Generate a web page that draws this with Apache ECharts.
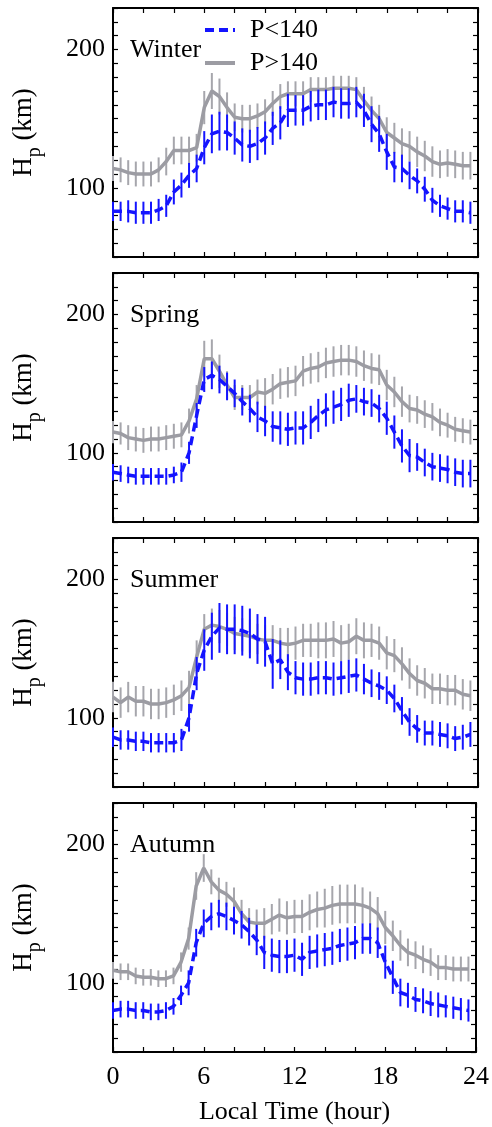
<!DOCTYPE html>
<html>
<head>
<meta charset="utf-8">
<script src="https://cdn.jsdelivr.net/npm/echarts@6/dist/echarts.min.js"></script>
<style>
body { margin: 0; background: #fff; }
#main { width: 492px; height: 1127px; }
</style>
</head>
<body>
<div id="main"></div>
<script>
// local time, half-hour bins
var hours = [0,0.5,1,1.5,2,2.5,3,3.5,4,4.5,5,5.5,6,6.5,7,7.5,8,8.5,9,9.5,10,10.5,11,11.5,
             12,12.5,13,13.5,14,14.5,15,15.5,16,16.5,17,17.5,18,18.5,19,19.5,20,20.5,21,21.5,22,22.5,23,23.5];
var seasons = ['Winter', 'Spring', 'Summer', 'Autumn'];
var xTickLabels = [0, 6, 12, 18, 24];
var yTickLabels = [100, 200];

// Hp (km), P<140
var winterLow = [83,83,83,82,82,82,84,87,97,102,109,114, 129,139,141,140,136,131,130,132,136,143,147,156,
                 156,156,159,160,160,162,161,161,162,156,146,139, 126,115,114,109,105,99,91,87,85,83,83,82];
var springLow = [86,85,84,83,83,83,83,83,84,86,100,127, 153,156,153,148,143,137,132,126,123,119,118,117,
                 118,118,122,127,131,133,135,138,139,137,136,132, 125,115,105,98,97,93,90,89,88,86,85,85];
var summerLow = [86,84,84,83,83,82,82,82,82,84,100,132, 149,159,165,164,164,163,161,157,155,139,142,133,
                 129,128,128,129,129,128,129,130,131,128,125,123, 120,114,105,97,92,89,89,88,87,85,86,88];
var autumnLow = [80,81,81,80,80,79,79,80,83,91,100,129, 143,148,150,148,145,142,137,131,122,120,119,119,
                 120,117,122,123,124,125,127,128,129,132,132,129, 115,104,93,91,88,87,85,84,83,82,81,80];

// Hp (km), P>140
var winterHigh = [114,113,111,110,110,110,113,119,127,127,127,129, 158,170,166,158,151,150,150,152,155,161,166,168,
                  168,168,171,171,171,172,172,172,171,163,156,150, 140,136,132,130,126,123,119,117,118,117,116,116];
var springHigh = [115,114,111,110,109,110,110,111,112,113,123,139, 168,168,159,149,140,140,140,144,143,146,150,151,
                  152,159,161,162,165,166,167,167,166,163,161,160, 149,144,137,132,131,128,126,122,120,117,116,115];
var summerHigh = [115,111,115,112,112,110,110,111,113,116,122,144, 164,167,166,164,161,160,159,157,156,156,154,153,
                  154,156,156,156,156,157,154,155,159,156,156,154, 147,145,139,132,127,125,121,121,120,120,117,116];
var autumnHigh = [109,108,108,105,104,104,103,103,105,115,132,170, 183,173,167,164,159,150,144,143,143,146,149,147,
                  148,148,151,153,154,156,157,157,157,156,154,150, 140,134,127,122,120,117,115,111,111,110,110,110];

// error bar half lengths (km)
var winterLowErr = [7,7,8,8,8,8,8,8,9,9,9,10, 12,14,14,13,12,12,12,12,12,12,12,12,
                    11,11,11,11,11,11,11,11,11,12,13,13, 13,11,10,10,9,9,9,8,8,8,8,8];
var springLowErr = [6,6,6,6,6,6,6,6,6,7,8,9, 9,10,10,10,10,10,10,11,11,11,12,12,
                    12,12,12,12,12,12,12,12,10,10,10,10, 12,12,12,12,10,10,10,10,10,10,10,10];
var summerLowErr = [7,7,7,7,7,7,7,7,7,8,10,12, 15,17,18,18,18,18,18,18,18,18,14,13,
                    12,12,12,12,12,12,12,12,12,11,10,10, 10,10,10,10,10,9,9,9,9,9,9,9];
var autumnLowErr = [6,6,6,6,6,6,6,6,6,7,9,10, 10,10,10,10,10,10,10,11,12,12,12,12,
                    12,12,12,12,12,12,12,12,12,11,11,11, 12,12,10,9,9,9,9,9,8,8,8,8];
var winterHighErr = [9,9,9,9,9,9,9,10,10,10,10,10, 12,13,13,11,10,10,10,9,9,9,9,9,
                     9,9,9,9,9,9,9,9,9,10,10,10, 11,11,11,11,11,11,11,10,10,10,10,10];
var springHighErr = [8,8,9,9,9,9,9,9,9,9,9,10, 13,14,12,10,9,9,9,9,11,11,11,11,
                     11,11,11,11,11,11,11,11,11,11,11,11, 11,11,11,10,10,10,10,10,9,9,9,9];
var summerHighErr = [11,11,11,11,11,11,11,11,11,11,12,12, 11,12,12,12,12,12,12,11,11,11,11,12,
                     12,12,12,13,13,13,13,13,13,13,12,12, 12,12,12,11,11,11,11,11,11,11,11,11];
var autumnHighErr = [6,6,6,6,6,6,6,6,6,7,8,10, 10,9,9,9,10,10,10,10,11,11,12,12,
                     12,12,13,13,14,14,14,14,14,13,12,12, 12,11,11,10,10,10,10,9,9,9,9,9];

var lowSets = [winterLow, springLow, summerLow, autumnLow];
var highSets = [winterHigh, springHigh, summerHigh, autumnHigh];
var lowErrSets = [winterLowErr, springLowErr, summerLowErr, autumnLowErr];
var highErrSets = [winterHighErr, springHighErr, summerHighErr, autumnHighErr];

var font = '"Liberation Serif", "DejaVu Serif", serif';
var blue = '#1414ff';
var grey = '#9c9ca3';

function pairs(vals) {
  return hours.map(function (h, k) { return [h, vals[k]]; });
}
function triples(vals, errs) {
  return hours.map(function (h, k) { return [h, vals[k], errs[k]]; });
}
function errBars(color) {
  return function (params, api) {
    var x = api.value(0), y = api.value(1), e = api.value(2);
    var a = api.coord([x, y + e]);
    var b = api.coord([x, y - e]);
    return {
      type: 'line',
      shape: { x1: a[0], y1: a[1], x2: b[0], y2: b[1] },
      style: { stroke: color, lineWidth: 2 }
    };
  };
}
function frame() {
  return { show: true, onZero: false, lineStyle: { color: '#000', width: 2 } };
}
function ticks() {
  return { show: true, inside: true, length: 5, lineStyle: { color: '#000', width: 1.2 } };
}

var grids = [], xAxes = [], yAxes = [], titles = [], series = [];
for (var i = 0; i < 4; i++) {
  var gridTop = 8 + 265 * i;
  grids.push({ left: 113, right: 14, top: gridTop, height: 249 });
  titles.push({
    text: seasons[i], left: 130, top: gridTop + 29, padding: 0,
    textStyle: { fontFamily: font, fontSize: 26, fontWeight: 'normal', color: '#000' }
  });
  xAxes.push({
    type: 'value', gridIndex: i, position: 'bottom', min: 0, max: 24, interval: 2,
    axisLine: frame(), axisTick: ticks(), splitLine: { show: false },
    axisLabel: {
      show: i === 3, margin: 12, fontFamily: font, fontSize: 26, color: '#000',
      formatter: function (v) { return xTickLabels.indexOf(v) >= 0 ? String(v) : ''; }
    },
    name: i === 3 ? 'Local Time (hour)' : '', nameLocation: 'middle', nameGap: 47,
    nameTextStyle: { fontFamily: font, fontSize: 26, color: '#000' }
  });
  xAxes.push({
    type: 'value', gridIndex: i, position: 'top', min: 0, max: 24, interval: 2,
    axisLine: frame(), axisTick: ticks(), axisLabel: { show: false }, splitLine: { show: false }
  });
  yAxes.push({
    type: 'value', gridIndex: i, position: 'left', min: 50, max: 230, interval: 10,
    axisLine: frame(), axisTick: ticks(), splitLine: { show: false },
    axisLabel: {
      margin: 8, fontFamily: font, fontSize: 26, color: '#000',
      formatter: function (v) { return yTickLabels.indexOf(v) >= 0 ? String(v) : ''; }
    },
    name: 'H{s|p} (km)', nameLocation: 'middle', nameGap: 76, nameRotate: 90,
    nameTextStyle: {
      fontFamily: font, fontSize: 27, color: '#000',
      rich: { s: { fontFamily: font, fontSize: 20, color: '#000', verticalAlign: 'bottom', padding: [0, 0, -8, 0] } }
    }
  });
  yAxes.push({
    type: 'value', gridIndex: i, position: 'right', min: 50, max: 230, interval: 10,
    axisLine: frame(), axisTick: ticks(), axisLabel: { show: false }, splitLine: { show: false }
  });

  series.push({
    type: 'custom', xAxisIndex: 2 * i, yAxisIndex: 2 * i, silent: true,
    renderItem: errBars('#a6a6ac'), data: triples(highSets[i], highErrSets[i]), z: 2
  });
  series.push({
    name: 'P>140', type: 'line', xAxisIndex: 2 * i, yAxisIndex: 2 * i,
    symbol: 'none', data: pairs(highSets[i]),
    lineStyle: { color: grey, width: 3.5 }, itemStyle: { color: grey }, z: 3
  });
  series.push({
    type: 'custom', xAxisIndex: 2 * i, yAxisIndex: 2 * i, silent: true,
    renderItem: errBars(blue), data: triples(lowSets[i], lowErrSets[i]), z: 4
  });
  series.push({
    name: 'P<140', type: 'line', xAxisIndex: 2 * i, yAxisIndex: 2 * i,
    symbol: 'none', data: pairs(lowSets[i]),
    lineStyle: { color: blue, width: 3.5, type: [9, 5] }, itemStyle: { color: blue }, z: 5
  });
}

var myChart = echarts.init(document.getElementById('main'), null, { renderer: 'canvas' });
myChart.setOption({
  animation: false,
  backgroundColor: '#fff',
  title: titles,
  legend: {
    data: ['P<140', 'P>140'], orient: 'vertical', left: 203, top: 17, padding: 0,
    itemWidth: 30, itemHeight: 14, itemGap: 7,
    itemStyle: { opacity: 0 },
    lineStyle: { width: 4 },
    textStyle: { fontFamily: font, fontSize: 26, color: '#000', padding: [0, 0, 0, 10] }
  },
  grid: grids,
  xAxis: xAxes,
  yAxis: yAxes,
  series: series
});
</script>
</body>
</html>
